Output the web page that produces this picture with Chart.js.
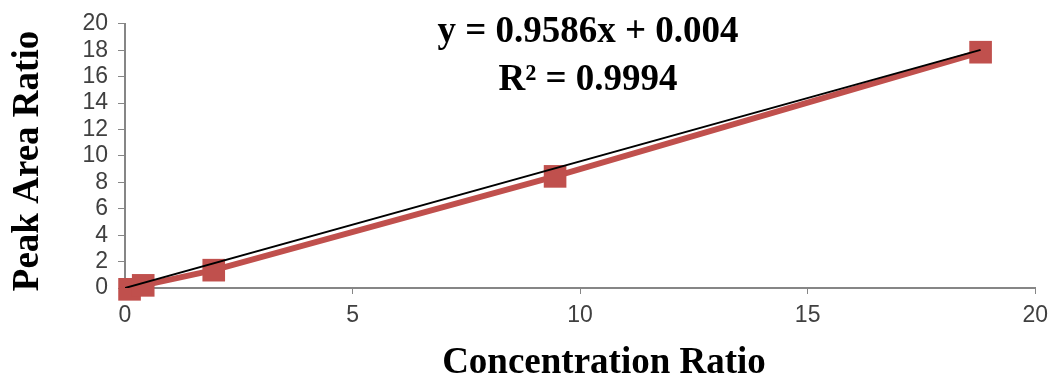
<!DOCTYPE html>
<html>
<head>
<meta charset="utf-8">
<script src="https://cdn.jsdelivr.net/npm/chart.js@4/dist/chart.umd.min.js"></script>
<style>
  html, body { margin: 0; padding: 0; background: #fff; }
  #wrap { width: 1056px; height: 383px; }
</style>
</head>
<body>
<div id="wrap"><canvas id="myChart" width="1056" height="383"></canvas></div>
<script>
// measured points
const concRatio = [0.1, 0.4, 1.95, 9.45, 18.8];
const areaRatio = [-0.1, 0.2, 1.35, 8.45, 17.85];

// linear trend shown on the chart
const slope = 0.9586;
const intercept = 0.004;
const trendX = [0, 18.8];

const yTicks = [0, 2, 4, 6, 8, 10, 12, 14, 16, 18, 20];
const xTicks = [0, 5, 10, 15, 20];

const equationLines = ["y = 0.9586x + 0.004", "R\u00b2 = 0.9994"];
const xTitle = "Concentration Ratio";
const yTitle = "Peak Area Ratio";

const red = "#C0504D";
const axisGray = "#868686";

const points = concRatio.map((x, i) => ({ x: x, y: areaRatio[i] }));
const trend = trendX.map(x => ({ x: x, y: slope * x + intercept }));

// equation and axis titles sit a bit off-centre in the original, so draw them here
const textPlugin = {
    id: "texts",
    afterDraw(chart) {
        const c = chart.ctx;
        c.save();
        c.fillStyle = "#000";
        c.font = "bold 37px 'Liberation Serif'";
        c.textAlign = "center";
        c.textBaseline = "middle";
        c.fillText(equationLines[0], 588, 32);
        c.fillText(equationLines[1], 588, 80);

        c.fillText(xTitle, 604, 363);

        c.translate(28, 161);
        c.rotate(-Math.PI / 2);
        c.fillText(yTitle, 0, 0);
        c.restore();
    }
};

const tickFont = { family: "'Liberation Sans'", size: 23 };

const ctx = document.getElementById("myChart").getContext("2d");
const myChart = new Chart(ctx, {
    type: "scatter",
    data: {
        datasets: [
            {
                label: "trend",
                data: trend,
                showLine: true,
                borderColor: "#000",
                borderWidth: 2,
                pointRadius: 0,
                order: 0,
            },
            {
                label: "data",
                data: points,
                showLine: true,
                borderColor: red,
                borderWidth: 6,
                backgroundColor: red,
                pointStyle: "rect",
                pointRadius: 16,
                pointBorderWidth: 0,
                order: 1,
                clip: false,
            },
        ],
    },
    options: {
        responsive: false,
        animation: false,
        layout: { padding: { top: 21, right: 19, left: 8, bottom: 0 } },
        plugins: {
            legend: { display: false },
            tooltip: { enabled: false },
        },
        scales: {
            x: {
                type: "linear",
                min: 0,
                max: 20,
                afterBuildTicks: s => { s.ticks = xTicks.map(v => ({ value: v })); },
                afterFit: s => { s.height = 95; },
                grid: {
                    drawOnChartArea: false,
                    color: axisGray,
                    tickLength: 6,
                },
                border: { color: axisGray, width: 2 },
                ticks: {
                    color: "#404040",
                    font: tickFont,
                    padding: 8,
                    autoSkip: false,
                    maxRotation: 0,
                },
            },
            y: {
                type: "linear",
                min: 0,
                max: 20,
                afterBuildTicks: s => { s.ticks = yTicks.map(v => ({ value: v })); },
                afterFit: s => { s.width = 117; },
                grid: {
                    drawOnChartArea: false,
                    color: axisGray,
                    tickLength: 7,
                },
                border: { color: axisGray, width: 2 },
                ticks: {
                    color: "#404040",
                    font: tickFont,
                    padding: 10,
                    autoSkip: false,
                },
            },
        },
    },
    plugins: [textPlugin],
});
</script>
</body>
</html>
